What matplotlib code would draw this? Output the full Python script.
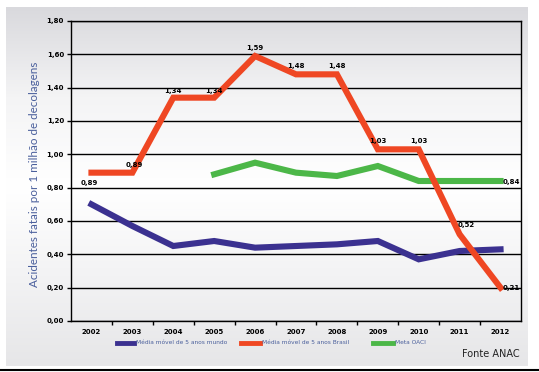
import numpy as np
import matplotlib
matplotlib.use("Agg")
import matplotlib.pyplot as plt
from matplotlib.colors import LinearSegmentedColormap

years = [2002, 2003, 2004, 2005, 2006, 2007, 2008, 2009, 2010, 2011, 2012]
brasil = [0.89, 0.89, 1.34, 1.34, 1.59, 1.48, 1.48, 1.03, 1.03, 0.52, 0.20]
brasil_labels = ["0,89", "0,89", "1,34", "1,34", "1,59", "1,48", "1,48", "1,03", "1,03", "0,52", "0,21"]
mundo = [0.70, 0.57, 0.45, 0.48, 0.44, 0.45, 0.46, 0.48, 0.37, 0.42, 0.43]
oaci_years = [2005, 2006, 2007, 2008, 2009, 2010, 2011, 2012]
oaci = [0.88, 0.95, 0.89, 0.87, 0.93, 0.84, 0.84, 0.84]
yticks = [0.0, 0.2, 0.4, 0.6, 0.8, 1.0, 1.2, 1.4, 1.6, 1.8]

RED = "#ef4723"
PURPLE = "#3b3190"
GREEN = "#4cb748"
BLUE_TXT = "#4a5f9c"

W, H = 539, 372
fig = plt.figure(figsize=(W / 100, H / 100), dpi=100)
fig.patch.set_facecolor("white")

# background panel with a vertical gradient
bg = fig.add_axes([6 / W, 1 - 366 / H, 522 / W, 359 / H])
cmap = LinearSegmentedColormap.from_list("bg", ["#d9d9dd", "#f4f4f5", "#ffffff", "#f3f3f4", "#e6e6e8"])
grad = np.linspace(0, 1, 256).reshape(-1, 1)
bg.imshow(grad, aspect="auto", cmap=cmap, extent=[0, 1, 1, 0])
bg.set_axis_off()

# black line at the bottom
fig.add_artist(plt.Line2D([0, 1], [1 - 369.5 / H, 1 - 369.5 / H], color="black", lw=1.5))

ax = fig.add_axes([71 / W, 1 - 321 / H, 450 / W, 300 / H])
ax.patch.set_alpha(0)
ax.set_xlim(2001.5, 2012.5)
ax.set_ylim(0, 1.8)
ax.set_yticks(yticks)
ax.set_yticklabels([f"{v:.2f}".replace(".", ",") for v in yticks], fontsize=5, fontweight="bold")
ax.yaxis.grid(True, color="black", lw=1)
ax.set_axisbelow(True)
ax.set_xticks(years)
ax.set_xticklabels([str(y) for y in years], fontsize=5, fontweight="bold")
ax.set_xticks([y + 0.5 for y in years[:-1]], minor=True)
ax.tick_params(axis="x", which="major", length=0, pad=6)
ax.tick_params(axis="x", which="minor", length=3, width=1)
ax.tick_params(axis="y", length=3, width=1, pad=2)
for s in ax.spines.values():
    s.set_color("black")
    s.set_linewidth(1)

ax.plot(years, mundo, color=PURPLE, lw=4.4, solid_joinstyle="miter", zorder=3)
ax.plot(oaci_years, oaci, color=GREEN, lw=4.4, solid_joinstyle="miter", zorder=3)
ax.plot(years, brasil, color=RED, lw=4.4, solid_joinstyle="miter", zorder=4)

offsets = [(-0.05, -0.065), (0.05, 0.045), (0, 0.04), (0, 0.04), (0, 0.05), (0, 0.05),
           (0, 0.05), (0, 0.05), (0, 0.05), (0.15, 0.055), (0.27, 0.0)]
for x, y, lab, (dx, dy) in zip(years, brasil, brasil_labels, offsets):
    ax.text(x + dx, y + dy, lab, fontsize=5, fontweight="bold", ha="center", va="center", zorder=5)
ax.text(2012.27, oaci[-1] - 0.005, "0,84", fontsize=5, fontweight="bold", ha="center", va="center")

fig.text(35 / W, 1 - 174 / H, "Acidentes fatais por 1 milhão de decolagens", rotation=90,
         ha="center", va="center", fontsize=8.4, color=BLUE_TXT, family="Lato")

# legend
leg_y = 1 - 343 / H
items = [(117, 134, PURPLE, "Média móvel de 5 anos mundo"),
         (241, 260, RED, "Média móvel de 5 anos Brasil"),
         (373, 393, GREEN, "Meta OACI")]
for x0, x1, c, lab in items:
    fig.add_artist(plt.Line2D([x0 / W, x1 / W], [leg_y, leg_y], color=c, lw=3.5))
    fig.text((x1 + 2) / W, leg_y, lab, fontsize=4.2, color=BLUE_TXT, va="center", ha="left")

fig.text(520 / W, 1 - 354 / H, "Fonte ANAC", fontsize=7, ha="right", va="center",
         color="#222222")

fig.savefig("out.png", dpi=100)
